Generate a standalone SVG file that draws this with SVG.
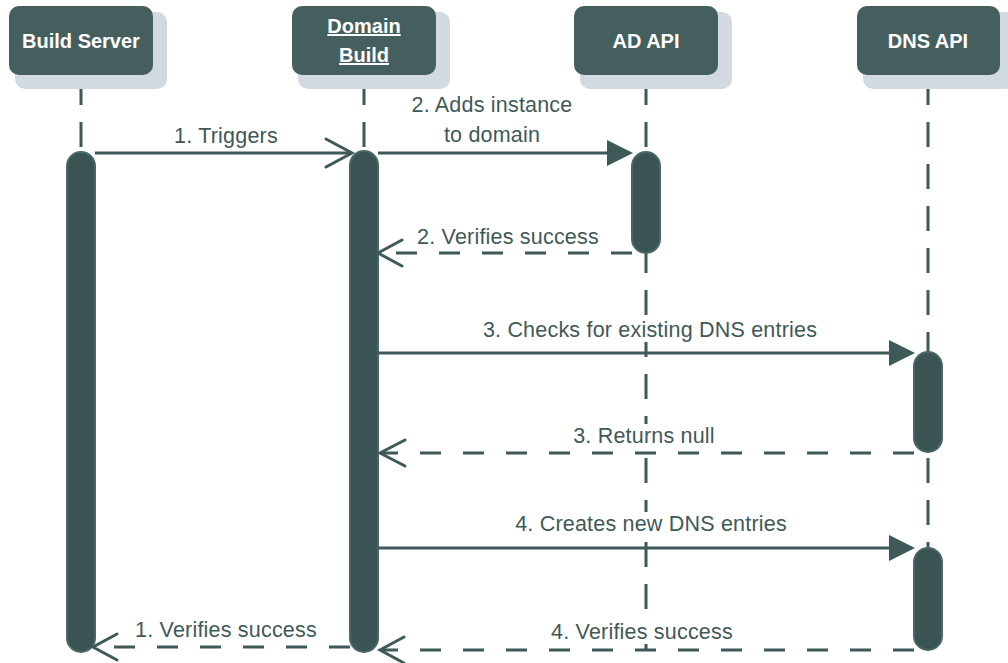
<svg xmlns="http://www.w3.org/2000/svg" width="1008" height="663" viewBox="0 0 1008 663">
  <style>
    .shadow { fill: #d2d9e0; }
    .head { fill: #455f5f; }
    .title { font-family: "Liberation Sans", Arial, sans-serif; font-weight: bold; font-size: 20px; fill: #ffffff; text-anchor: middle; }
    .life { stroke: #3f5959; stroke-width: 3; stroke-dasharray: 25 17; fill: none; }
    .bar { fill: #3a5353; stroke: #4b6767; stroke-width: 2; }
    .call { stroke: #3f5959; stroke-width: 3; fill: none; }
    .ret { stroke: #3f5959; stroke-width: 3; fill: none; stroke-dasharray: 21 22; }
    .open { stroke: #3f5959; stroke-width: 3; fill: none; stroke-linecap: round; stroke-linejoin: miter; }
    .solid { fill: #3f5959; }
    .lblbg { fill: #ffffff; }
    .msg { font-family: "Liberation Sans", Arial, sans-serif; font-size: 21.5px; letter-spacing: 0.2px; fill: #3f5959; text-anchor: middle; }
  </style>

  <!-- lifelines -->
  <g id="lifelines">
    <line class="life" x1="81" y1="80" x2="81" y2="650"/>
    <line class="life" x1="364" y1="80" x2="364" y2="650"/>
    <line class="life" x1="646" y1="80" x2="646" y2="650"/>
    <line class="life" x1="928" y1="80" x2="928" y2="650"/>
  </g>

  <!-- participant heads -->
  <g id="build-server">
    <rect class="shadow" x="15" y="12" width="152" height="77" rx="10"/>
    <rect class="head" x="9" y="6" width="144" height="69" rx="10"/>
    <text class="title" x="81" y="48">Build Server</text>
  </g>
  <g id="domain-build">
    <rect class="shadow" x="298" y="12" width="152" height="77" rx="10"/>
    <rect class="head" x="292" y="6" width="144" height="69" rx="10"/>
    <text class="title" x="364" y="33" text-decoration="underline">Domain</text>
    <text class="title" x="364" y="62" text-decoration="underline">Build</text>
  </g>
  <g id="ad-api">
    <rect class="shadow" x="580" y="12" width="152" height="77" rx="10"/>
    <rect class="head" x="574" y="6" width="144" height="69" rx="10"/>
    <text class="title" x="646" y="48">AD API</text>
  </g>
  <g id="dns-api">
    <rect class="shadow" x="863" y="12" width="152" height="77" rx="10"/>
    <rect class="head" x="857" y="6" width="143" height="69" rx="10"/>
    <text class="title" x="928" y="48">DNS API</text>
  </g>

  <!-- activation bars -->
  <g id="activations">
    <rect class="bar" x="67" y="152" width="28" height="500" rx="14"/>
    <rect class="bar" x="350" y="151" width="28" height="501" rx="14"/>
    <rect class="bar" x="632" y="152" width="28" height="101" rx="14"/>
    <rect class="bar" x="914" y="352" width="28" height="100" rx="14"/>
    <rect class="bar" x="914" y="548" width="28" height="102" rx="14"/>
  </g>

  <!-- messages -->
  <g id="connectors">
    <!-- 1. Triggers -->
    <line class="call" x1="95" y1="153" x2="351" y2="153"/>
    <polyline class="open" points="326,139 352,153 326,167"/>
    <text class="msg" x="226" y="143">1. Triggers</text>

    <!-- 2. Adds instance to domain -->
    <line class="call" x1="378" y1="153" x2="612" y2="153"/>
    <polygon class="solid" points="607,140 633,153 607,166"/>
    <text class="msg" x="492" y="112">2. Adds instance</text>
    <text class="msg" x="492" y="142">to domain</text>

    <!-- 2. Verifies success -->
    <line class="ret" x1="632" y1="253" x2="380" y2="253"/>
    <polyline class="open" points="402,240 378,253 402,266"/>
    <text class="msg" x="508" y="244">2. Verifies success</text>

    <!-- 3. Checks for existing DNS entries -->
    <line class="call" x1="378" y1="353" x2="894" y2="353"/>
    <polygon class="solid" points="889,340 915,353 889,366"/>
    <rect class="lblbg" x="482" y="318" width="336" height="24"/>
    <text class="msg" x="650" y="337">3. Checks for existing DNS entries</text>

    <!-- 3. Returns null -->
    <line class="ret" x1="914" y1="453" x2="381" y2="453"/>
    <polyline class="open" points="405,440 380,453 405,466"/>
    <rect class="lblbg" x="570" y="424" width="148" height="24"/>
    <text class="msg" x="644" y="443">3. Returns null</text>

    <!-- 4. Creates new DNS entries -->
    <line class="call" x1="378" y1="548" x2="894" y2="548"/>
    <polygon class="solid" points="889,535 915,548 889,561"/>
    <rect class="lblbg" x="514" y="512" width="274" height="24"/>
    <text class="msg" x="651" y="531">4. Creates new DNS entries</text>

    <!-- 4. Verifies success -->
    <line class="ret" x1="914" y1="650" x2="381" y2="650"/>
    <polyline class="open" points="404,637 380,650 404,663"/>
    <rect class="lblbg" x="548" y="620" width="188" height="24"/>
    <text class="msg" x="642" y="639">4. Verifies success</text>

    <!-- 1. Verifies success -->
    <line class="ret" x1="350" y1="647" x2="94" y2="647"/>
    <polyline class="open" points="117,634 93,647 117,660"/>
    <text class="msg" x="226" y="637">1. Verifies success</text>
  </g>
</svg>
